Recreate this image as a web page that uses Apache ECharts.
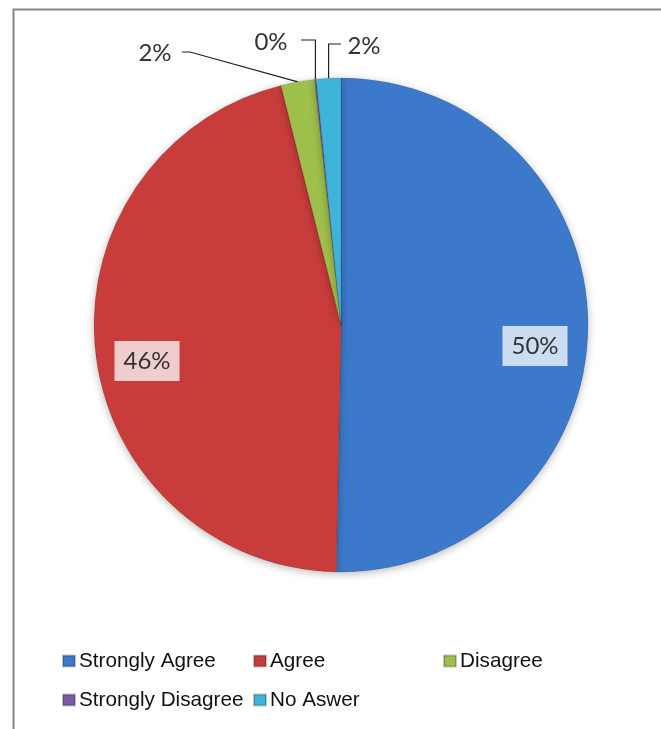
<!DOCTYPE html>
<html>
<head>
<meta charset="utf-8">
<script src="https://cdn.jsdelivr.net/npm/echarts@6/dist/echarts.min.js"></script>
<style>
  html, body { margin: 0; padding: 0; background: #ffffff; }
  #chart { width: 661px; height: 729px; }
</style>
</head>
<body>
<div id="chart"></div>
<script>
// ---- data ----
const categories = ['Strongly Agree', 'Agree', 'Disagree', 'Strongly Disagree', 'No Aswer'];
const values = [50.3, 45.8, 2.2, 0.1, 1.6];

// ---- style ----
const sliceColors = ['#3c79ca', '#c83d3b', '#a0c04c', '#7a5aa6', '#3db4d8'];
const CX = 341, CY = 325, R = 247;

const chart = echarts.init(document.getElementById('chart'), null, { renderer: 'canvas' });

const total = values.reduce((a, b) => a + b, 0);

const data = categories.map((name, i) => {
  const inside = i < 2;
  return {
    name: name,
    value: values[i],
    itemStyle: { color: sliceColors[i] },
    label: inside ? {
      backgroundColor: 'rgba(255,255,255,0.74)',
      padding: [8, 9, 8, 9]
    } : {},
    labelLine: { show: !inside }
  };
});

// label placement (offsets relative to the pie centre / leader-line start)
const insideOffsets = { 0: [194, 21], 1: [-194, 36] };
const outsideLabels = {
  2: { pos: [155, 53], turn: (s) => [190, 52], end: [182, 52] },
  3: { pos: [271, 42], turn: (s) => [s[0], 40], end: [301, 40] },
  4: { pos: [364, 46], turn: (s) => [s[0], 44], end: [341, 44] }
};

function makeLegend(i, left, top) {
  return {
    data: [categories[i]],
    left: left,
    top: top,
    orient: 'horizontal',
    padding: 0,
    icon: 'rect',
    itemWidth: 12,
    itemHeight: 11,
    selectedMode: false,
    textStyle: {
      fontFamily: '"Liberation Sans", Arial, sans-serif',
      fontSize: 20.7,
      lineHeight: 22,
      color: '#111111',
      padding: [0, 0, 0, -1]
    }
  };
}

const option = {
  backgroundColor: '#ffffff',
  animation: false,
  graphic: [{
    type: 'rect',
    left: 11,
    top: 7,
    shape: { width: 720, height: 800 },
    style: { fill: 'none', stroke: '#868686', lineWidth: 2 },
    silent: true,
    z: 100
  }],
  legend: [
    makeLegend(0, 62, 650),
    makeLegend(1, 253, 650),
    makeLegend(2, 443, 650),
    makeLegend(3, 62, 689),
    makeLegend(4, 253, 689)
  ],
  series: [{
    type: 'pie',
    center: [CX, CY],
    radius: [0, R],
    startAngle: 90,
    clockwise: true,
    avoidLabelOverlap: false,
    minShowLabelAngle: 0,
    itemStyle: {
      borderColor: 'rgba(0,0,0,0.22)',
      borderWidth: 0.6,
      shadowBlur: 8,
      shadowColor: 'rgba(0,0,0,0.28)',
      shadowOffsetY: 2
    },
    label: {
      show: true,
      position: 'outside',
      fontFamily: 'Lato, "Open Sans", sans-serif',
      fontSize: 24,
      color: '#333333',
      formatter: (p) => Math.round(p.value / total * 100) + '%'
    },
    labelLine: {
      show: true,
      lineStyle: { color: '#222222', width: 1.2 }
    },
    emphasis: { disabled: true },
    labelLayout: function (params) {
      const i = params.dataIndex;
      if (insideOffsets[i]) {
        const o = insideOffsets[i];
        return { x: CX + o[0], y: CY + o[1], align: 'center', verticalAlign: 'middle' };
      }
      const cfg = outsideLabels[i];
      if (!cfg) return {};
      const s = params.labelLinePoints ? params.labelLinePoints[0] : [CX, CY - R];
      return {
        x: cfg.pos[0],
        y: cfg.pos[1],
        align: 'center',
        verticalAlign: 'middle',
        labelLinePoints: [s, cfg.turn(s), cfg.end]
      };
    },
    data: data
  }]
};

chart.setOption(option);
</script>
</body>
</html>
